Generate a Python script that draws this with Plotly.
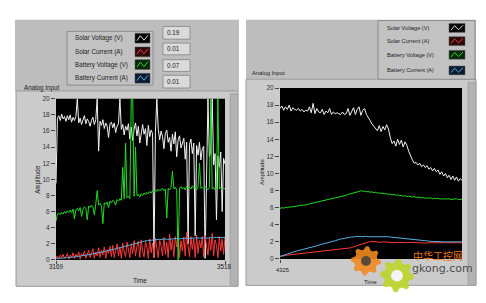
import numpy as np
import plotly.graph_objects as go

W, H = 486, 303

# ---------------- data ----------------
series_names = ["Solar Voltage (V)", "Solar Current (A)", "Battery Voltage (V)", "Battery Current (A)"]
series_colors = ["#f2f2f2", "#ff3a3a", "#22dd22", "#5aaee0"]
legend_values = ["0.19", "0.01", "0.07", "0.01"]
y_ticks = list(range(0, 21, 2))

left_t0, left_t1 = 3169, 3518
right_t0, right_t1 = 4325, 4674
left_x_ticks = [3169, 3518]
right_x_ticks = [4325]

left_solar_voltage = [
    9.5,
    17.6, 17.9, 17.3, 18.1, 17.5, 17.8, 17.2, 17.9, 17.4, 18.0, 17.1, 17.7, 17.3, 17.8,
    20.0,
    17.0, 17.6, 16.8, 17.4, 17.9, 16.9, 17.5, 17.2, 16.6, 17.3, 17.7, 16.8, 17.4,
    20.0, 13.5,
    17.2, 16.7, 17.4, 16.3, 17.0, 16.6, 15.2, 16.9, 17.1, 16.4, 17.0, 15.8, 16.6, 16.9,
    20.0,
    16.2, 16.8, 15.5, 16.6, 16.1, 16.9, 15.0,
    16.5, 14.8, 16.2, 17.0, 15.4, 16.6, 14.5, 16.0, 16.8, 15.6, 16.3, 14.2, 16.7, 15.3, 16.1, 15.7,
    0.3, 15.8, 20.0,
    16.2, 14.9, 16.0, 15.3, 13.8, 15.7, 16.1, 14.6, 15.2, 13.5, 15.6, 14.4, 15.9, 12.8, 14.9,
    15.4, 13.9, 14.7, 15.1, 12.5, 14.6,
    2.0, 14.3, 15.0, 13.2, 14.5,
    3.0, 14.2, 13.0, 14.6, 12.4, 13.8, 14.1,
    0.2, 13.5, 20.0, 12.8, 13.6, 20.0, 11.8, 13.2, 5.0, 12.9, 11.5, 13.4, 6.0, 12.6, 11.9,
]

left_solar_current = [
    0.2, 0.5, 0.1, 0.6, 0.3, 0.7, 0.2, 0.4, 0.8, 0.1, 0.6, 0.3, 0.9, 0.2, 0.7, 0.4, 1.0, 0.1, 0.8, 0.5,
    1.1, 0.2, 0.7, 1.2, 0.3, 0.9, 1.4, 0.2, 1.0, 0.5, 1.5, 0.3, 1.2, 0.6, 1.6, 0.2, 1.3, 0.8, 1.7, 0.4,
    1.8, 0.3, 1.4, 2.0, 0.5, 1.6, 0.2, 2.1, 1.0, 0.4, 2.2, 1.3, 0.3, 2.0, 0.8, 2.4, 0.5, 1.7, 2.3, 0.3,
    2.5, 1.1, 0.4, 2.3, 1.6, 0.2, 2.6, 0.9, 2.1, 0.4, 2.7, 1.4, 0.3, 2.4, 1.8, 0.5, 2.8, 0.7, 2.2, 0.3,
    3.2, 1.2, 2.5, 0.4, 2.9, 1.6, 3.6, 0.3, 2.4, 1.1, 2.8, 0.5, 3.4, 1.7, 0.4, 2.9, 1.3, 2.6, 0.3, 3.1,
    0.8, 2.4, 1.5, 2.9, 0.4, 3.0, 1.9, 0.6, 2.7, 1.2, 3.3, 0.5, 2.5, 1.8, 0.3, 2.9, 1.1, 2.6, 0.7, 2.8,
]

left_battery_voltage = [
    4.8,
    5.7, 5.8, 5.6, 5.9, 5.7, 6.0, 5.8, 6.1, 5.9,
    6.2, 5.9, 6.3, 5.1, 6.2, 6.4, 6.1, 6.5, 5.4, 6.3,
    6.6, 6.4, 5.0, 6.7, 6.5, 6.8, 6.6, 5.6, 6.9,
    8.6, 6.8, 7.0, 6.7, 4.5,
    7.1, 6.9, 7.2, 6.5, 7.3, 7.1, 7.4, 7.2, 6.8, 7.5, 7.3, 7.6, 7.4,
    11.5, 7.6, 14.5, 7.7, 7.9, 7.6, 20.0, 20.0, 7.9, 14.0,
    8.0, 8.1, 7.8, 8.2, 8.0, 8.3, 8.1, 8.4, 8.2, 8.5, 8.3, 8.6,
    8.4, 8.7, 8.5, 8.8, 8.6, 8.7, 8.9, 8.6, 8.8,
    5.2, 8.9, 8.7, 9.0, 11.0, 8.8, 9.0, 8.7, 0.0,
    8.9, 9.1, 8.8, 9.0, 8.7, 9.1, 8.9, 9.0, 8.8, 9.2, 8.9, 9.0, 8.7, 9.1,
    12.0, 8.9, 9.0, 8.8, 9.1, 8.9, 8.7, 9.0,
    20.0, 8.8, 9.0, 8.7, 8.9, 20.0, 8.8, 9.0, 8.7, 8.9, 8.8,
]

left_battery_current = [
    0.2, 0.2, 0.25, 0.25, 0.3, 0.3, 0.35, 0.4, 0.45, 0.5, 0.55, 0.6, 0.7, 0.75, 0.85, 0.9, 1.0, 1.05, 1.15, 1.2,
    1.3, 1.4, 1.5, 1.6, 1.7, 1.8, 1.9, 2.0, 2.1, 2.2, 2.3, 2.35, 2.4, 2.45, 2.5, 2.5, 2.55, 2.55, 2.6, 2.55,
    2.6, 2.6, 2.65, 2.6, 2.65, 2.7, 2.65, 2.7, 2.7, 2.75, 2.7, 2.75, 2.75, 2.7, 2.8, 2.75, 2.8, 2.75, 2.8, 2.8,
]

right_solar_voltage = [
    17.6, 17.9, 17.4, 17.8, 17.5, 18.0, 17.3, 17.7, 17.5, 17.4, 17.6, 17.3, 17.5, 17.2, 17.4, 17.3,
    17.8, 17.1, 18.2, 17.0, 17.6, 17.2, 17.1, 17.5, 16.9, 17.3, 17.1, 17.6, 16.9, 17.2, 17.0,
    17.1, 17.0, 16.9, 17.2, 16.9, 17.0, 17.6, 16.8, 17.3, 17.7, 16.9, 17.5, 17.8, 16.8, 17.4, 17.6, 16.9,
    16.6, 16.2, 15.8, 15.5, 15.3,
    15.0, 15.6, 14.9, 15.5, 15.1, 15.7, 15.2,
    14.2, 13.5,
    13.8, 13.2, 14.0, 13.4, 13.9, 13.1, 13.7, 13.3,
    12.6, 12.0, 11.6, 11.2, 11.3,
    11.0, 11.2, 10.8, 11.0, 10.7, 10.9, 10.5, 10.7, 10.3, 10.6, 10.2,
    10.4, 9.9, 10.2, 9.7, 10.0, 9.5, 9.8, 9.3, 9.7, 9.2, 9.6, 9.1, 9.4, 9.2,
]

right_solar_current = [
    0.3, 0.4, 0.45, 0.5, 0.55, 0.6, 0.65, 0.7, 0.75, 0.75, 0.8, 0.85, 0.9, 0.95, 1.0, 1.05, 1.1, 1.15, 1.2, 1.3,
    1.45, 1.6, 1.75, 1.9, 2.0, 2.05, 2.0, 1.95, 2.0, 1.95, 1.95, 1.9, 1.95, 1.9, 1.9, 1.95, 1.9, 1.9, 1.9, 1.85,
    1.9, 1.9, 1.85, 1.9, 1.9, 1.9, 1.85, 1.9, 1.9, 1.9,
]

right_battery_voltage = [
    5.9, 6.0, 5.95, 6.05, 6.0, 6.1, 6.05, 6.15, 6.1, 6.2,
    6.2, 6.3, 6.25, 6.35, 6.3, 6.4, 6.45, 6.5, 6.55, 6.6,
    6.65, 6.7, 6.75, 6.8, 6.8, 6.9, 6.95, 7.0, 7.05, 7.1,
    7.15, 7.2, 7.25, 7.3, 7.35, 7.4, 7.45, 7.55, 7.6, 7.7,
    7.75, 7.8, 7.85, 7.9, 8.0, 7.9, 7.95, 7.85, 7.9, 7.8,
    7.85, 7.75, 7.8, 7.7, 7.75, 7.65, 7.7, 7.6, 7.65, 7.55,
    7.6, 7.5, 7.55, 7.45, 7.5, 7.4, 7.45, 7.35, 7.4, 7.3,
    7.35, 7.3, 7.25, 7.3, 7.2, 7.25, 7.2, 7.15, 7.2, 7.1,
    7.15, 7.1, 7.15, 7.05, 7.1, 7.05, 7.1, 7.0, 7.05, 7.0,
    7.05, 7.0, 7.05, 6.95, 7.0, 7.0, 7.05, 6.95, 7.0, 7.0,
]

right_battery_current = [
    0.3, 0.45, 0.6, 0.75, 0.9, 1.0, 1.1, 1.2, 1.3, 1.45, 1.55, 1.7, 1.8, 1.95, 2.05, 2.15, 2.3, 2.4, 2.5, 2.55,
    2.6, 2.65, 2.6, 2.65, 2.6, 2.6, 2.65, 2.6, 2.6, 2.6, 2.55, 2.5, 2.5, 2.45, 2.4, 2.35, 2.3, 2.25, 2.2, 2.15,
    2.1, 2.05, 2.05, 2.0, 2.0, 2.0, 2.0, 2.0, 2.0, 2.0,
]

# ---------------- helpers ----------------
def X(px):
    return px / W

def Y(py):
    return 1 - py / H

shapes = []
annotations = []

def rect(x0, y0, x1, y1, fill, line=None, lw=0, layer="below", opacity=1):
    shapes.append(dict(type="rect", xref="paper", yref="paper",
                       x0=X(x0), x1=X(x1), y0=Y(y1), y1=Y(y0),
                       fillcolor=fill, opacity=opacity,
                       line=dict(color=line or fill, width=lw), layer=layer))

def circle(cx, cy, r, fill, layer="above", opacity=1):
    shapes.append(dict(type="circle", xref="paper", yref="paper",
                       x0=X(cx - r), x1=X(cx + r), y0=Y(cy + r), y1=Y(cy - r),
                       fillcolor=fill, opacity=opacity, line=dict(width=0), layer=layer))

def gear(cx, cy, r, fill, opacity=1):
    # simple gear outline drawn as a path (decorative watermark)
    n = 8
    pts = []
    for k in range(n * 4):
        a = 2 * np.pi * k / (n * 4)
        rr = r if (k % 4) in (0, 1) else r * 0.78
        pts.append((cx + rr * np.cos(a), cy + rr * np.sin(a)))
    path = "M " + " L ".join(f"{X(a)},{Y(b)}" for a, b in pts) + " Z"
    shapes.append(dict(type="path", xref="paper", yref="paper", path=path,
                       fillcolor=fill, opacity=opacity, line=dict(width=0), layer="above"))

def text(x, y, s, size=6.3, color="#222", xanchor="left", angle=0, family="Liberation Sans"):
    annotations.append(dict(xref="paper", yref="paper", x=X(x), y=Y(y), text=s,
                            showarrow=False, xanchor=xanchor, yanchor="middle",
                            textangle=angle, font=dict(size=size, color=color, family=family)))

def swatch(x0, yc, w, h, bg, col):
    rect(x0, yc - h / 2, x0 + w, yc + h / 2, bg, line="#555", lw=0.5, layer="above")
    pts = [(x0 + 2, yc + h * 0.25), (x0 + w * 0.35, yc - h * 0.25),
           (x0 + w * 0.6, yc + h * 0.2), (x0 + w - 2, yc - h * 0.3)]
    path = "M " + " L ".join(f"{X(a)},{Y(b)}" for a, b in pts)
    shapes.append(dict(type="path", xref="paper", yref="paper", path=path,
                       line=dict(color=col, width=1), layer="above"))

swatch_bgs = ["#050505", "#2a0a0a", "#0a260a", "#0a1a30"]

# ---------------- left panel ----------------
rect(15, 16, 239, 89, "#bdbdbd")
rect(16, 89, 238, 289, "#cbcbcb", line="#9a9a9a", lw=1)
rect(230, 92, 238, 288, "#b3b3b3", line="#8e8e8e", lw=0.5)
rect(56, 97, 225, 262, "#000000")
rect(67, 28, 153, 83, "#c2c2c2", line="#8c8c8c", lw=1)
left_rows = [35, 49, 62, 76]
for i, yc in enumerate(left_rows):
    text(73, yc, series_names[i])
    swatch(135, yc, 15, 10, swatch_bgs[i], series_colors[i] if i else "#dddddd")
left_boxes = [(23, 36), (40, 52), (57, 69), (73, 86)]
for i, (a, b) in enumerate(left_boxes):
    rect(163, a, 190, b, "#dadada", line="#7a7a7a", lw=0.7)
    text(165, (a + b) / 2, legend_values[i])
text(22, 86, "Analog Input")
text(38, 180, "Amplitude", angle=-90, xanchor="center")
text(140, 283, "Time", xanchor="center")
text(56, 268.5, str(left_x_ticks[0]), xanchor="center")
text(224, 268.5, str(left_x_ticks[1]), xanchor="center")

# ---------------- right panel ----------------
rect(246, 16, 476, 77, "#bdbdbd")
rect(246, 77, 476, 288, "#cbcbcb", line="#9a9a9a", lw=1)
rect(468, 80, 476, 287, "#b3b3b3", line="#8e8e8e", lw=0.5)
rect(280, 86, 462, 261, "#000000")
rect(378, 17, 475, 77, "#c2c2c2", line="#8c8c8c", lw=1)
right_rows = [24.5, 38, 52, 68]
for i, yc in enumerate(right_rows):
    text(385, yc, series_names[i], size=5.6)
    swatch(449, yc, 16, 9, swatch_bgs[i], series_colors[i] if i else "#dddddd")
text(250, 71, "Analog Input", size=5.8)
text(262, 172, "Amplitude", angle=-90, xanchor="center", size=5.8)
text(370, 285, "Time", xanchor="center", size=5.8)
text(282, 272, str(right_x_ticks[0]), xanchor="center", size=5.8)

# watermark
gear(366, 263, 15, "#f08a20", opacity=0.9)
circle(366, 263, 5, "#5a4a3a")
gear(397, 278, 17, "#bcd431", opacity=0.95)
circle(397, 278, 6, "#f4f4f4")
text(438, 257, "中华工控网", size=10, color="#f07818", xanchor="center", family="Noto Sans CJK SC")
text(442, 271, "gkong.com", size=11, color="#4a4a4a", xanchor="center", family="DejaVu Sans")

# ---------------- traces ----------------
fig = go.Figure()

def add_series(vals, t0, t1, color, xa, ya, name):
    x = np.linspace(t0, t1, len(vals))
    fig.add_trace(go.Scatter(x=x, y=vals, mode="lines", name=name,
                             line=dict(color=color, width=1),
                             xaxis=xa, yaxis=ya, showlegend=False, hoverinfo="skip"))

left_data = [left_solar_voltage, left_solar_current, left_battery_voltage, left_battery_current]
right_data = [right_solar_voltage, right_solar_current, right_battery_voltage, right_battery_current]
for i in range(4):
    add_series(left_data[i], left_t0, left_t1, series_colors[i], "x", "y", series_names[i])
for i in range(4):
    add_series(right_data[i], right_t0, right_t1, series_colors[i], "x2", "y2", series_names[i])

ax_common = dict(showgrid=False, zeroline=False, showline=False, ticks="outside",
                 tickcolor="#444", tickwidth=1)
fig.update_layout(
    width=W, height=H, autosize=False,
    margin=dict(l=0, r=0, t=0, b=0),
    paper_bgcolor="white", plot_bgcolor="black",
    showlegend=False,
    xaxis=dict(domain=[X(56), X(225)], range=[left_t0, left_t1], tickvals=left_x_ticks,
               showticklabels=False, ticklen=3, anchor="y", **ax_common),
    yaxis=dict(domain=[Y(262), Y(97)], range=[0, 20], tickvals=y_ticks, ticklen=4,
               tickfont=dict(size=6.5, color="#333", family="Liberation Sans"), anchor="x", **ax_common),
    xaxis2=dict(domain=[X(280), X(462)], range=[right_t0, right_t1], tickvals=right_x_ticks,
                showticklabels=False, ticklen=3, anchor="y2", **ax_common),
    yaxis2=dict(domain=[Y(261), Y(86)], range=[0, 20], tickvals=y_ticks, ticklen=4,
                tickfont=dict(size=6.5, color="#333", family="Liberation Sans"), anchor="x2", **ax_common),
    shapes=shapes, annotations=annotations,
)

fig.write_html("out.html")
